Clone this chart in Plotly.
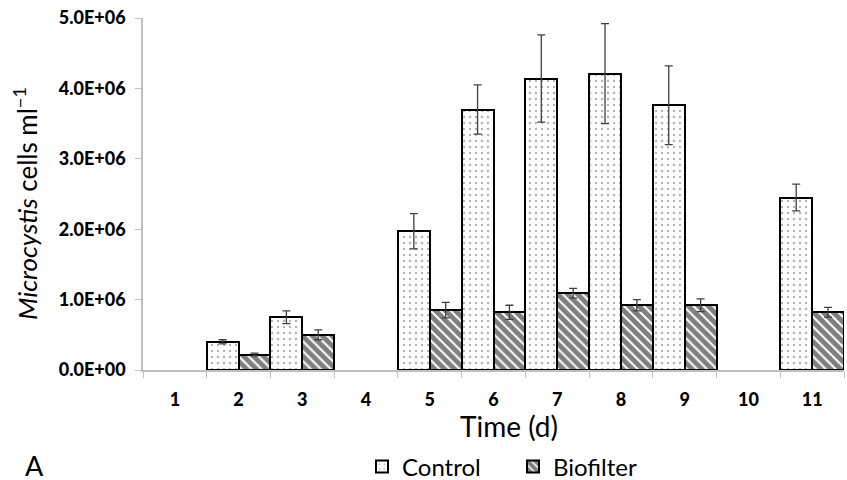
import plotly.graph_objects as go

days = ["1", "2", "3", "4", "5", "6", "7", "8", "9", "10", "11"]
control = [None, 0.40e6, 0.75e6, None, 1.97e6, 3.70e6, 4.14e6, 4.21e6, 3.76e6, None, 2.45e6]
control_err = [None, 0.03e6, 0.09e6, None, 0.25e6, 0.35e6, 0.62e6, 0.71e6, 0.56e6, None, 0.19e6]
biofilter = [None, 0.22e6, 0.50e6, None, 0.85e6, 0.82e6, 1.09e6, 0.92e6, 0.92e6, None, 0.82e6]
biofilter_err = [None, 0.02e6, 0.07e6, None, 0.11e6, 0.10e6, 0.07e6, 0.08e6, 0.09e6, None, 0.07e6]
y_ticks = [0, 1e6, 2e6, 3e6, 4e6, 5e6]
y_ticktext = ["0.0E+00", "1.0E+06", "2.0E+06", "3.0E+06", "4.0E+06", "5.0E+06"]

FONT = "Lato"
W, H = 847, 480
L, R, T, B = 143, 3, 18, 110
pw, ph = W - L - R, H - T - B
plot_bottom = T + ph

def px_to_paper_x(px):
    return (px - L) / pw

def px_to_paper_y(py):
    return -(py - plot_bottom) / ph

fig = go.Figure()
fig.add_trace(go.Bar(
    name="Control", x=days, y=control,
    error_y=dict(type="data", array=control_err, color="#404040", thickness=1.3, width=4),
    marker=dict(color="white", line=dict(color="black", width=2),
                pattern=dict(shape=".", fgcolor="#666666", bgcolor="white", size=6, solidity=0.12)),
))
fig.add_trace(go.Bar(
    name="Biofilter", x=days, y=biofilter,
    error_y=dict(type="data", array=biofilter_err, color="#404040", thickness=1.3, width=4),
    marker=dict(color="white", line=dict(color="black", width=2),
                pattern=dict(shape="\\", fgcolor="black", bgcolor="white", size=7, solidity=0.72)),
))

fig.update_layout(
    width=W, height=H,
    margin=dict(l=L, r=R, t=T, b=B, autoexpand=False),
    paper_bgcolor="white", plot_bgcolor="white",
    barmode="group", bargap=0, bargroupgap=0,
    font=dict(family=FONT, color="black"),
    showlegend=True,
    legend=dict(orientation="h", x=px_to_paper_x(513), xanchor="center",
                y=px_to_paper_y(467), yanchor="middle",
                font=dict(size=24, family=FONT), itemwidth=30, traceorder="normal",
                entrywidth=106),
    xaxis=dict(type="category", categoryorder="array", categoryarray=days,
               tickson="boundaries", ticks="outside", ticklen=6, tickcolor="#bfbfbf",
               showline=True, linecolor="#bfbfbf", linewidth=1.5, showgrid=False,
               ticklabelstandoff=13,
               tickfont=dict(size=18, family=FONT + " Black", color="black")),
    yaxis=dict(range=[0, 5e6], tickvals=y_ticks, ticktext=y_ticktext,
               ticks="outside", ticklen=6, tickcolor="#bfbfbf",
               showline=True, linecolor="#bfbfbf", linewidth=1.5, showgrid=False,
               zeroline=False, ticklabelstandoff=6, ticklabeloverflow="allow",
               tickfont=dict(size=18, family=FONT + " Black", color="black")),
)
fig.add_annotation(text="<i>Microcystis</i> cells ml<sup>−1</sup>", xref="paper", yref="paper",
                   x=px_to_paper_x(26), xanchor="center",
                   y=px_to_paper_y(204), yanchor="middle", textangle=-90,
                   showarrow=False, font=dict(size=26, family=FONT))
fig.add_annotation(text="Time (d)", xref="paper", yref="paper",
                   x=px_to_paper_x(509), xanchor="center",
                   y=px_to_paper_y(426), yanchor="middle",
                   showarrow=False, font=dict(size=28, family=FONT))
fig.add_annotation(text="A", xref="paper", yref="paper",
                   x=px_to_paper_x(23), xanchor="left",
                   y=px_to_paper_y(465), yanchor="middle",
                   showarrow=False, font=dict(size=27, family=FONT))

fig.write_html("out.html", config={"displayModeBar": False},
               post_script="document.body.style.margin='0';")
